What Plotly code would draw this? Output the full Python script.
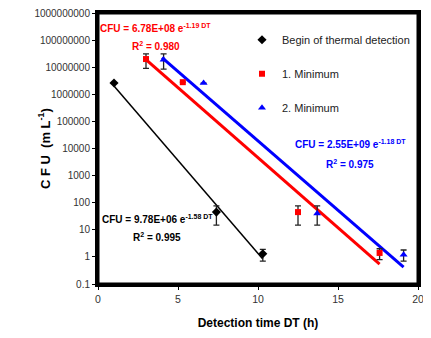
import plotly.graph_objects as go
import numpy as np

# ---- data ----
begin_x = [1.0, 7.4, 10.3]
begin_y = [2.6e6, 45, 1.3]
begin_err_plus = [0, 31, 0.6]
begin_err_minus = [0, 30, 0.6]

min1_x = [3.0, 5.3, 12.5, 17.6]
min1_y = [2.0e7, 2.8e6, 45, 1.4]
min1_err_plus = [1.1e7, 0, 31, 0.6]
min1_err_minus = [1.1e7, 0, 30, 0.6]

min2_x = [4.1, 6.6, 13.7, 19.1]
min2_y = [1.9e7, 2.6e6, 40, 1.2]
min2_err_plus = [1.2e7, 0, 36, 0.6]
min2_err_minus = [1.05e7, 0, 25, 0.5]

# fitted exponential models: CFU = a * exp(b * DT), drawn over range
fit_begin = dict(a=9.78e6, b=-1.58, x0=1.0, x1=10.3)
fit_min1 = dict(a=6.78e8, b=-1.19, x0=3.0, x1=17.6)
fit_min2 = dict(a=2.55e9, b=-1.18, x0=4.0, x1=19.1)

y_tickvals = [0.1, 1, 10, 100, 1000, 10000, 100000, 1000000, 10000000, 100000000, 1000000000]
y_ticktext = ["0.1", "1", "10", "100", "1000", "10000", "100000", "1000000",
              "10000000", "100000000", "1000000000"]
x_tickvals = [0, 5, 10, 15, 20]

SANS = "Liberation Sans, Arial, sans-serif"


def fit_line(p):
    xs = np.array([p["x0"], p["x1"]])
    return xs, p["a"] * np.exp(p["b"] * xs)


fig = go.Figure()

for p, col, w in [(fit_begin, "black", 1.5), (fit_min1, "#ff0000", 3), (fit_min2, "#0000ff", 3)]:
    fx, fy = fit_line(p)
    fig.add_trace(go.Scatter(x=fx, y=fy, mode="lines", line=dict(color=col, width=w),
                             showlegend=False, hoverinfo="skip"))


def err(plus, minus):
    return dict(type="data", symmetric=False, array=plus, arrayminus=minus,
                color="#222222", thickness=1.3, width=3)


fig.add_trace(go.Scatter(x=begin_x, y=begin_y, mode="markers", name="Begin of thermal detection",
                         legendgroup="a",
                         marker=dict(symbol="diamond", color="black", size=7),
                         error_y=err(begin_err_plus, begin_err_minus)))
fig.add_trace(go.Scatter(x=min1_x, y=min1_y, mode="markers", name="1. Minimum",
                         legendgroup="b",
                         marker=dict(symbol="square", color="#ff0000", size=6),
                         error_y=err(min1_err_plus, min1_err_minus)))
fig.add_trace(go.Scatter(x=min2_x, y=min2_y, mode="markers", name="2. Minimum",
                         legendgroup="c",
                         marker=dict(symbol="triangle-up", color="#0000ff", size=7),
                         error_y=err(min2_err_plus, min2_err_minus)))

annots = [
    (3.6, 8.45, "CFU = 6.78E+08 e<sup>-1.19 DT</sup>", "#ff0000"),
    (3.6, 7.78, "R<sup>2</sup> = 0.980", "#ff0000"),
    (15.75, 4.17, "CFU = 2.55E+09 e<sup>-1.18 DT</sup>", "#0000ff"),
    (15.75, 3.43, "R<sup>2</sup> = 0.975", "#0000ff"),
    (3.7, 1.40, "CFU = 9.78E+06 e<sup>-1.58 DT</sup>", "black"),
    (3.7, 0.73, "R<sup>2</sup> = 0.995", "black"),
]
for ax, ay, t, c in annots:
    fig.add_annotation(x=ax, y=ay, text=t, showarrow=False,
                       font=dict(family=SANS, size=10, color=c, weight="bold"),
                       xanchor="center", yanchor="middle")

# y-axis title
fig.add_annotation(xref="paper", yref="paper", x=-0.17, y=0.5, textangle=-90,
                   text="<b>C F U  (m L<sup>-1</sup>)</b>", showarrow=False,
                   font=dict(family=SANS, size=13, color="black"),
                   xanchor="center", yanchor="middle")

# thick plot frame
fig.add_shape(type="rect", xref="paper", yref="paper", x0=0, x1=1, y0=0, y1=1,
              line=dict(color="black", width=3), layer="above")

fig.update_xaxes(range=[0, 20], tickvals=x_tickvals, showgrid=False, zeroline=False,
                 showline=True, linecolor="black", linewidth=3, mirror=True,
                 ticks="outside", ticklen=3, tickcolor="black",
                 tickfont=dict(family=SANS, size=10.5, color="#333333"),
                 title=dict(text="<b>Detection time DT (h)</b>",
                            font=dict(family=SANS, size=12, color="black"), standoff=21))
fig.update_yaxes(type="log", range=[-1, 9], tickvals=y_tickvals, ticktext=y_ticktext,
                 showgrid=False, zeroline=False, ticklabeloverflow="allow",
                 showline=True, linecolor="black", linewidth=3, mirror=True,
                 ticks="outside", ticklen=3, tickcolor="black",
                 tickfont=dict(family=SANS, size=10, color="#333333"))

# page body adds an 8px offset, so the figure is sized to fit the 431x338 window
fig.update_layout(
    width=423, height=322,
    margin=dict(l=90, r=13, t=5, b=46, autoexpand=False),
    paper_bgcolor="white", plot_bgcolor="white",
    legend=dict(x=0.45, y=0.955, xanchor="left", yanchor="top",
                bgcolor="rgba(0,0,0,0)", tracegroupgap=15,
                font=dict(family=SANS, size=11, color="#222222")),
)

fig.write_html("out.html")
